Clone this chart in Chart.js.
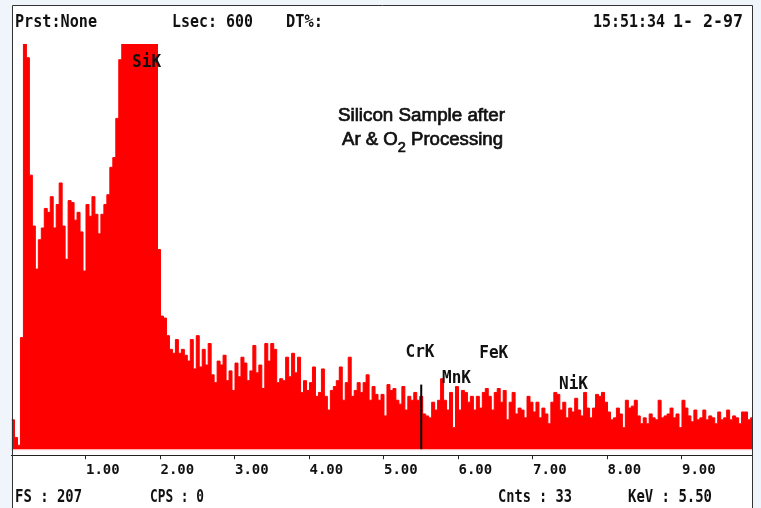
<!DOCTYPE html>
<html lang="en">
<head>
<meta charset="UTF-8">
<title>EDS Spectrum - Silicon Sample</title>
<script src="https://cdn.jsdelivr.net/npm/chart.js"></script>
<style>
  html, body { margin: 0; padding: 0; background: #eff5fa; }
  canvas { display: block; }
</style>
</head>
<body>
<canvas id="spectrum" width="761" height="508"></canvas>
<script>
// channel width and range of the spectrum (keV)
const BIN_KEV = 0.04;
const KEV_MAX = 9.94;
const FULL_SCALE = 207;

// counts per channel, starting at 0 keV
const COUNTS = [
  15, 6, 2, 57, 207, 200, 140, 114, 92, 107, 113, 123, 121, 129, 113, 125, 136, 114, 97, 127,
  126, 117, 121, 111, 91, 125, 119, 129, 120, 110, 120, 125, 130, 144, 149, 169, 199,
  207, 207, 207, 207, 207, 207, 207, 207, 207, 207, 207, 207,
  102, 68, 67, 58, 51, 49, 56, 49, 51, 48, 45, 56, 41, 58, 42, 51, 43, 54, 38, 34,
  45, 43, 48, 35, 40, 30, 44, 37, 47, 44, 35, 40, 53, 39, 43, 31, 54, 45, 54, 51,
  34, 36, 35, 47, 37, 49, 39, 47, 29, 35, 30, 34, 42, 27, 29, 41, 27, 20, 30, 32,
  35, 42, 25, 34, 47, 27, 30, 34, 29, 34, 38, 25, 32, 28, 25, 28, 17, 33, 30, 31,
  25, 23, 32, 20, 27, 25, 29, 25, 27, 18, 17, 16, 24, 20, 25, 36, 25, 20, 29, 11,
  32, 20, 30, 29, 24, 27, 20, 27, 21, 29, 31, 27, 20, 29, 31, 24, 30, 15, 24, 29,
  18, 21, 20, 16, 27, 24, 19, 24, 16, 21, 18, 13, 24, 29, 28, 20, 24, 16, 21, 19,
  26, 20, 17, 29, 21, 16, 21, 28, 27, 29, 24, 19, 15, 16, 21, 18, 11, 25, 21, 22,
  25, 17, 13, 16, 13, 18, 16, 15, 25, 16, 17, 18, 21, 16, 18, 11, 25, 21, 17, 14,
  20, 15, 16, 20, 15, 17, 16, 13, 19, 15, 16, 20, 15, 17, 16, 13, 19, 19, 15, 16
];

const TICK_KEV = [1, 2, 3, 4, 5, 6, 7, 8, 9];

// identified lines: name, line energy, height of the label
const PEAK_NAMES = ['SiK', 'CrK', 'MnK', 'FeK', 'NiK'];
const PEAK_KEV = [1.74, 5.41, 5.90, 6.40, 7.47];
const PEAK_LABEL_CNTS = [195, 47, 34, 46.5, 30.7];

// cursor readout
const CURSOR_KEV = 5.50;
const CURSOR_CNTS = 33;
const LIVE_SEC = 600;
const CPS = 0;

const points = COUNTS.map((c, i) => ({ x: i * BIN_KEV, y: c }));
points.push({ x: COUNTS.length * BIN_KEV, y: COUNTS[COUNTS.length - 1] });

const INK = '#111';
const MONO = '"DejaVu Sans Mono"';

// draw text squeezed or stretched to a given width
function fitText(ctx, parts, left, base, width, weight) {
  ctx.save();
  let total = 0;
  parts.forEach(p => { ctx.font = p.font; p.w = ctx.measureText(p.text).width; total += p.w; });
  const sx = width / total;
  ctx.translate(left, base);
  ctx.scale(sx, 1);
  let x = 0;
  parts.forEach(p => {
    ctx.font = p.font;
    ctx.fillText(p.text, x, p.dy || 0);
    if (weight) {
      ctx.lineWidth = weight;
      ctx.strokeStyle = ctx.fillStyle;
      ctx.strokeText(p.text, x, p.dy || 0);
    }
    x += p.w;
  });
  ctx.restore();
}

const overlay = {
  id: 'overlay',
  beforeDraw(chart) {
    const ctx = chart.ctx;
    ctx.save();
    ctx.fillStyle = '#eff5fa';
    ctx.fillRect(0, 0, chart.width, chart.height);
    ctx.fillStyle = '#fff';
    ctx.fillRect(12, 5, 741, chart.height - 5);
    ctx.restore();
  },
  afterDatasetsDraw(chart) {
    const ctx = chart.ctx;
    const xs = chart.scales.x, ys = chart.scales.y;
    ctx.save();

    // thin light rim along the bottom of the spectrum
    const zero = ys.getPixelForValue(0);
    ctx.fillStyle = '#ffb0b0';
    ctx.fillRect(chart.chartArea.left, zero, chart.chartArea.right - chart.chartArea.left, 1);

    // cursor marker
    const cx = xs.getPixelForValue(CURSOR_KEV);
    const top = ys.getPixelForValue(CURSOR_CNTS);
    ctx.fillStyle = '#000';
    ctx.fillRect(cx - 1, top, 2, zero - top);

    // frame
    ctx.strokeStyle = '#333';
    ctx.lineWidth = 1;
    ctx.beginPath();
    ctx.moveTo(12.5, chart.height);
    ctx.lineTo(12.5, 5.5);
    ctx.lineTo(752.5, 5.5);
    ctx.lineTo(752.5, chart.height);
    ctx.stroke();

    // peak labels
    ctx.fillStyle = INK;
    ctx.textBaseline = 'alphabetic';
    PEAK_NAMES.forEach((name, i) => {
      const x = xs.getPixelForValue(PEAK_KEV[i]) - 9;
      const y = ys.getPixelForValue(PEAK_LABEL_CNTS[i]);
      fitText(ctx, [{ text: name, font: 'bold 17px ' + MONO }], x, y, 29);
    });
    ctx.restore();
  },
  afterDraw(chart) {
    const ctx = chart.ctx;
    ctx.save();
    ctx.fillStyle = INK;
    ctx.textBaseline = 'alphabetic';
    const hdr = 'bold 18px ' + MONO;

    // status line
    fitText(ctx, [{ text: 'Prst:None', font: hdr }], 15, 27, 82);
    fitText(ctx, [{ text: 'Lsec: ' + LIVE_SEC, font: hdr }], 172, 27, 81);
    fitText(ctx, [{ text: 'DT%:', font: hdr }], 286, 27, 37);
    fitText(ctx, [{ text: '15:51:34', font: hdr }], 593, 27, 72);
    fitText(ctx, [{ text: '1- 2-97', font: hdr }], 673, 27, 70);

    // readout line
    fitText(ctx, [{ text: 'FS : ' + FULL_SCALE, font: hdr }], 15, 502, 67);
    fitText(ctx, [{ text: 'CPS : ' + CPS, font: hdr }], 150, 502, 54);
    fitText(ctx, [{ text: 'Cnts : ' + CURSOR_CNTS, font: hdr }], 498, 502, 74);
    fitText(ctx, [{ text: 'KeV : ' + CURSOR_KEV.toFixed(2), font: hdr }], 628, 502, 84);

    // sample title
    const tf = '18px "Liberation Sans"';
    fitText(ctx, [{ text: 'Silicon Sample after', font: tf }], 338, 120.5, 167, 0.7);
    fitText(ctx, [
      { text: 'Ar & O', font: tf },
      { text: '2', font: '14px "Liberation Sans"', dy: 7 },
      { text: ' Processing', font: tf }
    ], 342, 144.5, 161, 0.7);
    ctx.restore();
  }
};

new Chart(document.getElementById('spectrum'), {
  type: 'line',
  data: {
    datasets: [{
      data: points,
      stepped: 'before',
      fill: 'origin',
      backgroundColor: '#ff0000',
      borderColor: '#ff0000',
      borderWidth: 1,
      pointRadius: 0
    }]
  },
  options: {
    responsive: false,
    animation: false,
    devicePixelRatio: 1,
    layout: { padding: { left: 11.5, right: 9, top: 44, bottom: 26 } },
    plugins: {
      legend: { display: false },
      tooltip: { enabled: false }
    },
    scales: {
      x: {
        type: 'linear',
        min: 0,
        max: KEV_MAX,
        afterBuildTicks: scale => { scale.ticks = TICK_KEV.map(v => ({ value: v })); },
        grid: { drawOnChartArea: false, drawTicks: true, tickLength: 4, color: '#222' },
        border: { display: true, color: '#222', width: 1 },
        ticks: {
          align: 'start',
          padding: 3,
          maxRotation: 0,
          autoSkip: false,
          color: INK,
          font: { family: 'DejaVu Sans Mono', size: 14, weight: 'bold' },
          callback: v => v.toFixed(2)
        }
      },
      y: { display: false, min: -3.07, max: FULL_SCALE }
    }
  },
  plugins: [overlay]
});
</script>
</body>
</html>
